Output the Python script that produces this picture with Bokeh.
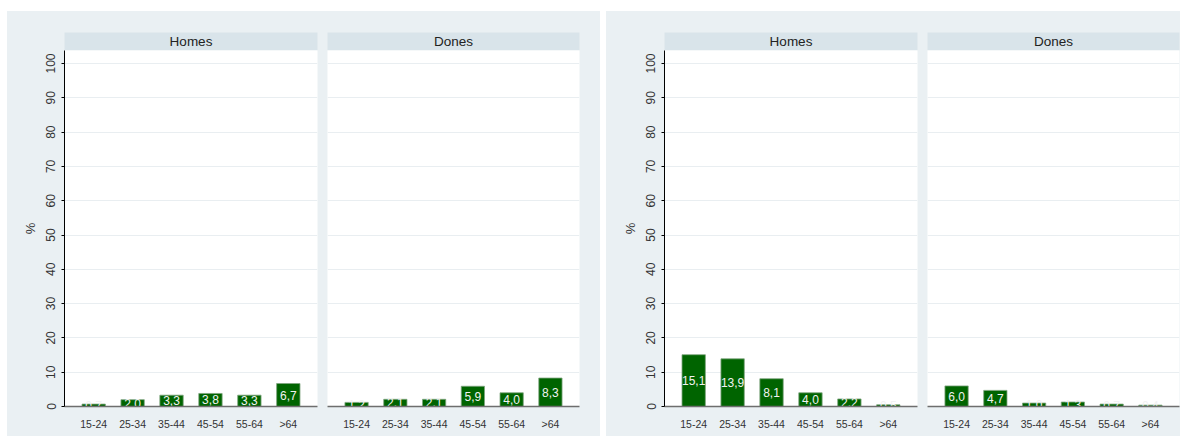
import math
from bokeh.plotting import figure
from bokeh.models import FactorRange, Range1d, FixedTicker, ColumnDataSource
from bokeh.layouts import row, column
from bokeh.core.properties import value
from bokeh.embed import file_html
from bokeh.resources import INLINE

# ---------------- data ----------------
age_groups = ["15-24", "25-34", "35-44", "45-54", "55-64", ">64"]
facet_titles = ["Homes", "Dones"]
left_homes = [0.7, 2.0, 3.3, 3.8, 3.3, 6.7]
left_dones = [1.2, 2.1, 2.1, 5.9, 4.0, 8.3]
right_homes = [15.1, 13.9, 8.1, 4.0, 2.2, 0.5]
right_dones = [6.0, 4.7, 1.0, 1.3, 0.7, 0.4]
y_ticks = [0, 10, 20, 30, 40, 50, 60, 70, 80, 90, 100]
y_label = "%"

# ---------------- style ----------------
PANEL_BG = "#eaf0f3"
STRIP_BG = "#d9e4ea"
BAR = "#006400"
FONT = "Liberation Sans"
Y_MAX = 103.8
FRAME_H = 356
STRIP_H = 18


def fmt(v):
    return f"{v:.1f}".replace(".", ",")


def header(title, bl, fw, br):
    p = figure(frame_width=fw, frame_height=STRIP_H,
               x_range=Range1d(0, 1), y_range=Range1d(0, 1),
               x_axis_location=None, y_axis_location=None,
               toolbar_location=None, output_backend="svg",
               min_border_left=bl, min_border_right=br,
               min_border_top=21, min_border_bottom=0,
               background_fill_color=STRIP_BG, border_fill_color=PANEL_BG,
               outline_line_color=None)
    p.grid.visible = False
    p.text(x=[0.5], y=[0.5], text=[title], text_align="center",
           text_baseline="middle", text_font=value(FONT),
           text_font_size="13.5px", text_color="#222222")
    return p


def facet(vals, bl, fw, br, show_y):
    src = ColumnDataSource(dict(
        x=age_groups, top=vals,
        mid=[v / 2 for v in vals],
        lab=[fmt(v) for v in vals]))
    p = figure(frame_width=fw, frame_height=FRAME_H,
               x_range=FactorRange(factors=age_groups, range_padding=0.25,
                                   range_padding_units="absolute"),
               y_range=Range1d(0, Y_MAX),
               y_axis_location="left" if show_y else None,
               toolbar_location=None, output_backend="svg",
               min_border_left=bl, min_border_right=br,
               min_border_top=0, min_border_bottom=30,
               background_fill_color="white", border_fill_color=PANEL_BG,
               outline_line_color=None)
    p.xgrid.visible = False
    p.ygrid.ticker = FixedTicker(ticks=y_ticks)
    p.ygrid.grid_line_color = "#e9eef1"
    p.ygrid.grid_line_width = 1

    xa = p.xaxis[0]
    xa.axis_line_color = "#6e6e6e"
    xa.axis_line_width = 1.3
    xa.major_tick_line_color = None
    xa.minor_tick_line_color = None
    xa.major_label_text_font = FONT
    xa.major_label_text_font_size = "10.5px"
    xa.major_label_text_color = "#333333"
    xa.major_label_standoff = 5

    if show_y:
        ya = p.yaxis[0]
        ya.ticker = FixedTicker(ticks=y_ticks)
        ya.axis_line_color = "black"
        ya.axis_line_width = 1
        ya.major_tick_out = 3
        ya.major_tick_in = 0
        ya.major_tick_line_color = "black"
        ya.minor_tick_line_color = None
        ya.major_label_orientation = "vertical"
        ya.major_label_text_font = FONT
        ya.major_label_text_font_size = "12px"
        ya.major_label_text_color = "#333333"
        ya.major_label_standoff = 6
        ya.axis_label = y_label
        ya.axis_label_text_font = FONT
        ya.axis_label_text_font_size = "13px"
        ya.axis_label_text_font_style = "normal"
        ya.axis_label_text_color = "#333333"
        ya.axis_label_standoff = 6

    p.vbar(x="x", top="top", width=0.6, source=src, fill_color=BAR,
           line_color="#7fa57f", line_width=0.8)
    p.text(x="x", y="mid", text="lab", source=src, text_align="center",
           text_baseline="middle", text_font=value(FONT),
           text_font_size="12px", text_color="#f2f2f2")
    return p


def panel(homes, dones, left_b, last_fw, last_rb):
    bg = {"background-color": PANEL_BG}
    hA = header(facet_titles[0], left_b, 253, 5)
    hB = header(facet_titles[1], 5, last_fw, last_rb)
    pA = facet(homes, left_b, 253, 5, True)
    pB = facet(dones, 5, last_fw, last_rb, False)
    return row(column(hA, pA, spacing=0, styles=bg),
               column(hB, pB, spacing=0, styles=bg),
               spacing=0, styles=bg)


p1 = panel(left_homes, left_dones, 57, 252, 21)
p2 = panel(right_homes, right_dones, 58, 252, 1)
p = row(p1, p2, spacing=6, margin=(11, 0, 0, 7))

open("out.html", "w").write(file_html(p, INLINE))
